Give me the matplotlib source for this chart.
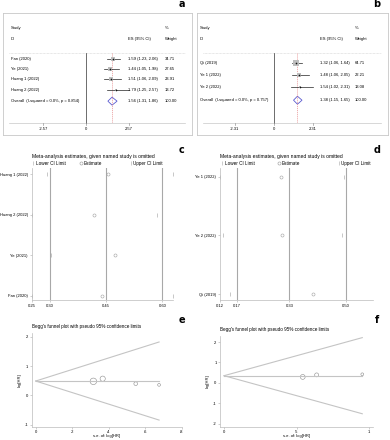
import matplotlib
matplotlib.use("Agg")
import matplotlib.pyplot as plt
from matplotlib.patches import Polygon

plt.rcParams['font.family'] = ['Liberation Sans', 'DejaVu Sans']

W, H = 390, 440

# ---- panel a: forest plot
a_study = ["Fan (2020)", "Ye (2021)", "Huang 1 (2022)", "Huang 2 (2022)"]
a_es = [1.59, 1.44, 1.51, 1.79]
a_lo = [1.23, 1.05, 1.06, 1.25]
a_hi = [2.06, 1.98, 2.09, 2.57]
a_w = [34.71, 27.65, 23.91, 13.72]
a_ov = [1.56, 1.31, 1.86]
a_ov_label = "Overall  (I-squared = 0.0%, p = 0.854)"
a_ticks = [-2.57, 0, 2.57]

# ---- panel b: forest plot
b_study = ["Qi (2019)", "Ye 1 (2022)", "Ye 2 (2022)"]
b_es = [1.32, 1.48, 1.54]
b_lo = [1.06, 1.06, 1.02]
b_hi = [1.64, 2.05, 2.31]
b_w = [64.71, 22.21, 13.08]
b_ov = [1.38, 1.15, 1.65]
b_ov_label = "Overall  (I-squared = 0.0%, p = 0.757)"
b_ticks = [-2.31, 0, 2.31]

# ---- panel c: leave-one-out
c_study = ["Huang 1 (2022)", "Huang 2 (2022)", "Ye (2021)", "Fan (2020)"]
c_est = [0.455, 0.418, 0.474, 0.439]
c_lo = [0.292, 0.253, 0.303, 0.253]
c_hi = [0.627, 0.585, 0.668, 0.627]
c_ref = [0.30, 0.45, 0.60]
c_ticks = [0.253, 0.30, 0.45, 0.60]
c_ticklabels = ["0.25", "0.30", "0.45", "0.60"]

# ---- panel d: leave-one-out
d_study = ["Ye 1 (2022)", "Ye 2 (2022)", "Qi (2019)"]
d_est = [0.306, 0.308, 0.402]
d_lo = [0.121, 0.129, 0.150]
d_hi = [0.495, 0.488, 0.683]
d_ref = [0.17, 0.33, 0.50]
d_ticks = [0.12, 0.17, 0.33, 0.50]
d_ticklabels = ["0.12", "0.17", "0.33", "0.50"]

# ---- panel e / f: Begg's funnel
e_se = [0.316, 0.367, 0.548, 0.676]
e_lhr = [0.48, 0.57, 0.40, 0.36]
e_size = [22, 14, 7, 4]
e_mean = 0.49
e_xticks = [0, 0.2, 0.4, 0.6, 0.8]
e_xticklabels = ["0", ".2", ".4", ".6", ".8"]
e_yticks = [-1, 0, 1, 2]

f_se = [0.543, 0.639, 0.954]
f_lhr = [0.29, 0.39, 0.42]
f_size = [12, 8, 4]
f_mean = 0.35
f_xticks = [0, 0.5, 1]
f_xticklabels = ["0", ".5", "1"]
f_yticks = [-2, -1, 0, 1, 2]

fig = plt.figure(figsize=(W / 100, H / 100), dpi=100)


def rect(x0, y0, x1, y1):
    return [x0 / W, 1 - y1 / H, (x1 - x0) / W, (y1 - y0) / H]


FS = 3


def forest(box, xlim, row0, step, study, es, lo, hi, w, ov, ov_label, ticks, cols):
    x0, y0, x1, y1 = box
    ax = fig.add_axes(rect(*box))
    ax.set_xlim(xlim)
    ax.set_ylim(y1, y0)
    ax.set_xticks([])
    ax.set_yticks([])
    for s in ax.spines.values():
        s.set_color('#c8c8c8')
        s.set_linewidth(0.6)
    tr = ax.get_yaxis_transform()
    cs, ce, cw = cols
    ax.text(cs, 28, "Study", transform=tr, fontsize=FS, va='center')
    ax.text(cs, 38.5, "ID", transform=tr, fontsize=FS, va='center')
    ax.text(ce, 38.5, "ES (95% CI)", transform=tr, fontsize=FS, va='center')
    ax.text(cw, 28, "%", transform=tr, fontsize=FS, va='center')
    ax.text(cw, 38.5, "Weight", transform=tr, fontsize=FS, va='center')
    sep, base = 52.5, 123
    ax.axhline(sep, 0.03, 0.965, color='#d0d0d0', lw=0.5, ls=(0, (1, 1)))
    ax.axhline(base, 0.03, 0.965, color='#c8c8c8', lw=0.5)
    ax.plot([0, 0], [sep, base], color='#333333', lw=0.5)
    ax.plot([ov[0], ov[0]], [sep, base], color='#e07070', lw=0.4, ls=(0, (2, 1.5)))
    n = len(study)
    for i in range(n):
        y = row0 + step * i
        ax.plot([lo[i], hi[i]], [y, y], color='#222222', lw=0.5)
        ax.plot(es[i], y, 's', ms=0.55 * w[i] ** 0.5, color='#bdbdbd', mew=0)
        ax.plot(es[i], y, 'o', ms=1.2, color='#111111', mew=0)
        ax.text(cs, y, study[i], transform=tr, fontsize=FS, va='center')
        ax.text(ce, y, f"{es[i]:.2f} ({lo[i]:.2f}, {hi[i]:.2f})", transform=tr,
                fontsize=FS, va='center')
        ax.text(cw, y, f"{w[i]:.2f}", transform=tr, fontsize=FS, va='center')
    yo = row0 + step * (n + 0.1)
    dia = Polygon([[ov[1], yo], [ov[0], yo - 4], [ov[2], yo], [ov[0], yo + 4]],
                  closed=True, fill=False, edgecolor='#5a5ad0', lw=0.6)
    ax.add_patch(dia)
    ax.text(cs, yo, ov_label, transform=tr, fontsize=FS, va='center')
    ax.text(ce, yo, f"{ov[0]:.2f} ({ov[1]:.2f}, {ov[2]:.2f})", transform=tr,
            fontsize=FS, va='center')
    ax.text(cw, yo, "100.00", transform=tr, fontsize=FS, va='center')
    for t in ticks:
        ax.plot([t, t], [base, base + 1.8], color='#999999', lw=0.5)
        ax.text(t, base + 5.5, f"{t:g}", fontsize=FS, ha='center', va='center')
    return ax


forest((3, 12.7, 192, 135), (-4.96, 6.34), 58.5, 10.4, a_study, a_es, a_lo, a_hi,
       a_w, a_ov, a_ov_label, a_ticks, (0.042, 0.661, 0.857))
forest((197, 12.7, 388, 135), (-4.53, 6.71), 63, 12, b_study, b_es, b_lo, b_hi,
       b_w, b_ov, b_ov_label, b_ticks, (0.016, 0.644, 0.827))


def influence(box, xlim, study, est, lo, hi, ref, ticks, ticklabels, legx):
    ax = fig.add_axes(rect(*box))
    n = len(study)
    ax.set_xlim(xlim)
    ax.set_ylim(n - 1 + 0.1, -0.15)
    for s in ['top', 'right']:
        ax.spines[s].set_visible(False)
    for s in ['left', 'bottom']:
        ax.spines[s].set_color('#bbbbbb')
        ax.spines[s].set_linewidth(0.5)
    for r in ref:
        ax.axvline(r, color='#a8a8a8', lw=0.8)
    y = list(range(n))
    ax.plot(lo, y, '|', ms=2.5, mew=0.5, color='#b0b0b0', ls='none')
    ax.plot(est, y, 'o', ms=2.2, mfc='none', mew=0.4, color='#a0a0a0', ls='none')
    ax.plot(hi, y, '|', ms=2.5, mew=0.5, color='#b0b0b0', ls='none')
    ax.set_yticks(y)
    ax.set_yticklabels(study, fontsize=FS)
    ax.set_xticks(ticks)
    ax.set_xticklabels(ticklabels, fontsize=FS)
    ax.tick_params(length=1.5, width=0.4, pad=1.5, color='#aaaaaa')
    ax.text(0, 1.09, "Meta-analysis estimates, given named study is omitted",
            transform=ax.transAxes, fontsize=3.6, va='center')
    # legend row
    items = [("|", "Lower CI Limit", '#b0b0b0', 2.5),
             ("o", "Estimate", '#a0a0a0', 2.2),
             ("|", "Upper CI Limit", '#b0b0b0', 2.5)]
    for xf, (mk, txt, col, ms) in zip(legx, items):
        ax.plot([xf], [1.037], mk, ms=ms, mew=0.45, mfc='none', color=col,
                transform=ax.transAxes, clip_on=False)
        ax.text(xf + 0.018, 1.037, txt, transform=ax.transAxes, fontsize=3.3,
                va='center')
    return ax


influence((32, 168, 173, 300), (0.253, 0.628), c_study, c_est, c_lo, c_hi, c_ref,
          c_ticks, c_ticklabels, (0.01, 0.345, 0.70))
influence((220, 168, 373, 300), (0.12, 0.583), d_study, d_est, d_lo, d_hi, d_ref,
          d_ticks, d_ticklabels, (0.012, 0.385, 0.775))


def funnel(box, xlim, ylim, se, lhr, size, mean, xt, xtl, yt):
    ax = fig.add_axes(rect(*box))
    ax.set_xlim(xlim)
    ax.set_ylim(ylim)
    for s in ['top', 'right']:
        ax.spines[s].set_visible(False)
    for s in ['left', 'bottom']:
        ax.spines[s].set_color('#bbbbbb')
        ax.spines[s].set_linewidth(0.5)
    top = max(se)
    ax.plot([0, top], [mean, mean + 1.96 * top], color='#c4c4c4', lw=0.8)
    ax.plot([0, top], [mean, mean - 1.96 * top], color='#c4c4c4', lw=0.8)
    ax.plot([0, top], [mean, mean], color='#c4c4c4', lw=0.8)
    ax.scatter(se, lhr, s=size, facecolors='none', edgecolors='#8a8a8a', linewidths=0.4)
    ax.set_xticks(xt)
    ax.set_xticklabels(xtl, fontsize=FS)
    ax.set_yticks(yt)
    ax.set_yticklabels([str(v) for v in yt], fontsize=FS)
    ax.tick_params(length=1.5, width=0.4, pad=1.0, color='#aaaaaa')
    ax.set_xlabel("s.e. of: log[HR]", fontsize=FS, labelpad=0)
    ax.set_ylabel("log[HR]", fontsize=FS, labelpad=2)
    ax.text(0, 1.04, "Begg's funnel plot with pseudo 95% confidence limits",
            transform=ax.transAxes, fontsize=3.3, va='bottom')
    return ax


funnel((31.7, 333, 181.7, 427), (-0.022, 0.8), (-1.07, 2.12), e_se, e_lhr, e_size,
       e_mean, e_xticks, e_xticklabels, e_yticks)
funnel((220, 336, 373, 427), (-0.028, 1.028), (-2.17, 2.30), f_se, f_lhr, f_size,
       f_mean, f_xticks, f_xticklabels, f_yticks)

for lab, x, y in [("a", 181.5, 4), ("b", 377, 4), ("c", 181.5, 150),
                  ("d", 377, 150), ("e", 181.5, 320), ("f", 377, 320)]:
    fig.text(x / W, 1 - y / H, lab, fontsize=7, fontweight='bold',
             family='DejaVu Sans', ha='center', va='center')

fig.savefig("out.png", dpi=100)
